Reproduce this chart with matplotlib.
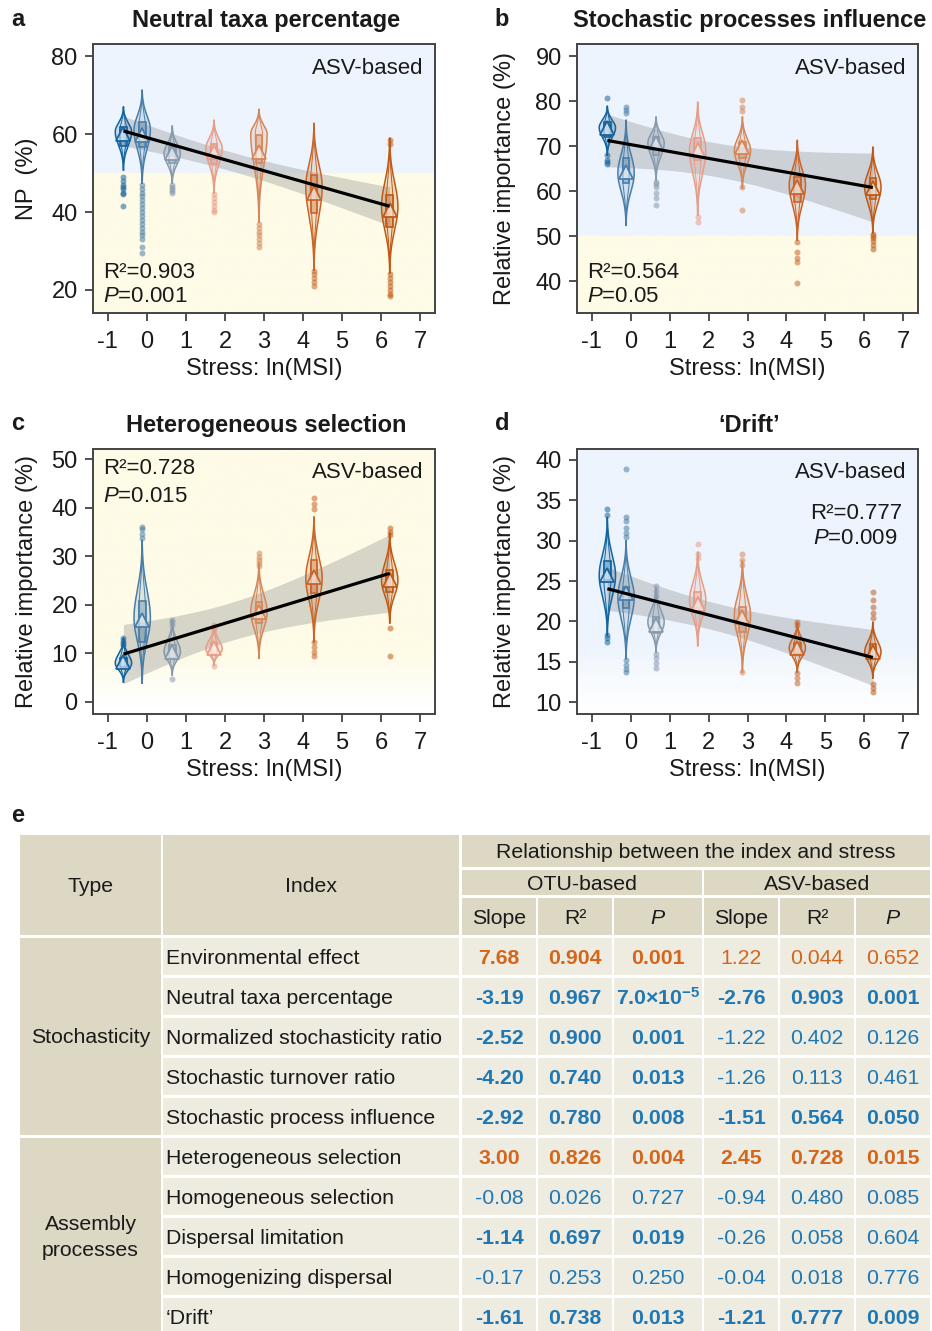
import numpy as np
import matplotlib
matplotlib.use('Agg')
import matplotlib.pyplot as plt
from matplotlib.patches import Rectangle

plt.rcParams['font.family'] = ['Liberation Sans', 'DejaVu Sans']
plt.rcParams['mathtext.fontset'] = 'custom'
plt.rcParams['mathtext.rm'] = 'Liberation Sans'
plt.rcParams['mathtext.it'] = 'Liberation Sans:italic'
plt.rcParams['mathtext.bf'] = 'Liberation Sans:bold'
plt.rcParams['axes.unicode_minus'] = False

# ---------------- data ----------------
stress_x = [-0.6, -0.12, 0.65, 1.72, 2.87, 4.28, 6.22]
group_colors = ['#15649f', '#4a7ea8', '#8699ad', '#e59d89', '#d4875a', '#c8652a', '#bf5a16']
x_ticks = [-1, 0, 1, 2, 3, 4, 5, 6, 7]

# panel a: neutral taxa percentage
a_lo = [50.8, 47.4, 47.4, 44.9, 37.5, 25.1, 24.4]
a_hi = [67.0, 71.3, 62.1, 63.6, 66.4, 62.8, 59.0]
a_peak = [60.6, 61.0, 55.0, 56.3, 60.0, 46.5, 41.4]
a_q1 = [57.0, 56.7, 52.6, 52.3, 52.6, 39.8, 36.2]
a_q3 = [61.8, 63.2, 56.7, 57.4, 59.7, 49.5, 44.4]
a_mean = [59.9, 59.7, 55.1, 55.4, 55.4, 45.0, 40.6]
a_out = [[49, 48, 47, 46.5, 46, 45, 44.5, 41.5],
         [47, 46, 45, 44, 43, 42, 41, 40, 39, 38, 37, 36, 35, 34, 33, 31, 29.5],
         [47, 46.5, 46, 45.5, 45],
         [44.5, 43.5, 42.5, 41.5, 40.5, 40],
         [37, 36, 35, 34, 33, 32, 31],
         [25, 24, 23, 22, 21],
         [58.5, 57.5, 24, 23, 22, 21, 20, 19, 18.5]]

# panel b: stochastic processes influence
b_lo = [68.0, 52.4, 62.4, 54.7, 60.7, 49.1, 50.7]
b_hi = [78.9, 75.8, 76.5, 79.8, 76.5, 71.3, 69.8]
b_peak = [74.1, 64.0, 70.7, 69.0, 69.0, 61.3, 60.9]
b_q1 = [72.1, 61.8, 68.0, 66.9, 67.3, 57.6, 58.2]
b_q3 = [75.4, 67.3, 72.1, 71.8, 71.0, 63.2, 63.0]
b_mean = [74.0, 64.2, 70.7, 69.1, 69.8, 60.9, 60.6]
b_out = [[80.6, 68, 67, 66.5, 66],
         [78.7, 78, 77.3],
         [62, 61.5, 61, 59.5, 58.5, 57],
         [54.3, 53.2],
         [80.2, 78.7, 77.7, 60.8, 55.8],
         [48.7, 46.5, 45.2, 44.2, 39.6],
         [50.5, 50, 49.5, 49, 48, 47.2]]

# panel c: heterogeneous selection
c_lo = [4.1, 3.9, 5.6, 7.6, 9.0, 12.4, 16.3]
c_hi = [13.2, 33.3, 16.9, 16.0, 28.6, 38.1, 34.8]
c_peak = [8.0, 17.3, 10.3, 10.9, 18.5, 25.5, 25.0]
c_q1 = [7.1, 12.4, 9.0, 9.9, 16.3, 22.4, 22.6]
c_q3 = [9.0, 20.8, 11.7, 12.1, 20.6, 29.2, 27.2]
c_mean = [8.2, 16.9, 10.3, 11.1, 18.5, 25.7, 25.1]
c_out = [[13.2, 12.6, 12.2, 11.8],
         [36, 35.5, 34.5, 33.8],
         [16.9, 16.4, 15.8, 4.7],
         [15.9, 15.2, 14.6, 7.4],
         [30.6, 29.8, 29.2, 28.6, 28],
         [42, 40.8, 39.8, 12.3, 11.3, 10.3, 9.5],
         [35.8, 35, 34.3, 15.3, 9.4]]

# panel d: 'Drift'
d_lo = [18.3, 15.4, 16.2, 17.0, 13.7, 13.7, 13.0]
d_hi = [32.9, 30.0, 24.2, 28.6, 27.5, 19.9, 19.9]
d_peak = [25.7, 23.0, 19.9, 22.6, 20.7, 16.7, 16.2]
d_q1 = [25.1, 21.6, 18.6, 21.6, 18.7, 16.0, 15.4]
d_q3 = [27.5, 24.2, 20.5, 23.6, 21.8, 17.3, 17.2]
d_mean = [25.7, 23.5, 19.5, 22.2, 20.5, 16.7, 16.2]
d_out = [[33.9, 33.2, 18.3, 17.9, 17.5],
         [38.9, 32.9, 32.4, 31.6, 31, 30.4, 15.2, 14.6, 14.1, 13.7],
         [24.4, 23.8, 23.2, 16, 15.4, 14.8, 14.2],
         [29.6, 28.4, 27.9],
         [28.4, 27.6, 27, 13.7],
         [19.9, 19.5, 13.6, 13, 12.4],
         [23.6, 22.6, 21.8, 21, 20.4, 12.2, 11.7, 11.3]]

panel_titles = ['Neutral taxa percentage', 'Stochastic processes influence',
                'Heterogeneous selection', '\u2018Drift\u2019']
panel_letters = ['a', 'b', 'c', 'd']
panel_r2 = ['0.903', '0.564', '0.728', '0.777']
panel_p = ['0.001', '0.05', '0.015', '0.009']
panel_ylabels = ['NP  (%)', 'Relative importance (%)', 'Relative importance (%)',
                 'Relative importance (%)']
panel_yticks = [[20, 40, 60, 80], [40, 50, 60, 70, 80, 90],
                [0, 10, 20, 30, 40, 50], [10, 15, 20, 25, 30, 35, 40]]
panel_ylims = [(14.1, 83.1), (32.9, 92.7), (-2.47, 52.06), (8.52, 41.36)]

# table e
tbl_types = ['Stochasticity', 'Assembly\nprocesses']
tbl_type_span = [5, 5]
tbl_index = ['Environmental effect', 'Neutral taxa percentage',
             'Normalized stochasticity ratio', 'Stochastic turnover ratio',
             'Stochastic process influence', 'Heterogeneous selection',
             'Homogeneous selection', 'Dispersal limitation',
             'Homogenizing dispersal', '\u2018Drift\u2019']
otu_slope = [7.68, -3.19, -2.52, -4.20, -2.92, 3.00, -0.08, -1.14, -0.17, -1.61]
otu_r2 = [0.904, 0.967, 0.900, 0.740, 0.780, 0.826, 0.026, 0.697, 0.253, 0.738]
otu_p = [0.001, 7.0e-5, 0.001, 0.013, 0.008, 0.004, 0.727, 0.019, 0.250, 0.013]
asv_slope = [1.22, -2.76, -1.22, -1.26, -1.51, 2.45, -0.94, -0.26, -0.04, -1.21]
asv_r2 = [0.044, 0.903, 0.402, 0.113, 0.564, 0.728, 0.480, 0.058, 0.018, 0.777]
asv_p = [0.652, 0.001, 0.126, 0.461, 0.050, 0.015, 0.085, 0.604, 0.776, 0.009]

# ---------------- figure ----------------
W, H = 932, 1331
fig = plt.figure(figsize=(W / 100, H / 100), dpi=100)
fig.patch.set_facecolor('white')

BLUE_BG = np.array([237, 244, 253]) / 255
YEL_BG = np.array([254, 251, 231]) / 255
TXT = '#1a1a1a'
VW = 0.21   # violin half width (x units)
BW = 0.085  # box half width


def ftext(x, y, s, **kw):
    fig.text(x / W, 1 - y / H, s, **kw)


def add_ax(l, t, r, b):
    return fig.add_axes([l / W, 1 - b / H, (r - l) / W, (b - t) / H])


def violin_shape(lo, hi, peak):
    ys = np.linspace(lo, hi, 300)
    t = np.where(ys < peak, (peak - ys) / (peak - lo), (ys - peak) / (hi - peak))
    s = 0.5
    e1 = np.exp(-(1 / s) ** 2)
    g = (np.exp(-(t / s) ** 2) - e1) / (1 - e1)
    return ys, np.clip(g, 0, 1)


def draw_group(ax, x, lo, hi, peak, q1, q3, mean, outs, color):
    ys, g = violin_shape(lo, hi, peak)
    for scale, lw, fill in [(1.0, 1.1, True), (0.45, 0.7, False)]:
        hw = VW * scale * g
        xs = np.concatenate([x - hw, (x + hw)[::-1]])
        yy = np.concatenate([ys, ys[::-1]])
        if fill:
            ax.fill(xs, yy, facecolor=color, alpha=0.18, lw=0, zorder=3)
        ax.plot(xs, yy, color=color, lw=lw, zorder=4)
    ax.add_patch(Rectangle((x - BW, q1), 2 * BW, q3 - q1, facecolor=color, alpha=0.35,
                           lw=0, zorder=4))
    ax.add_patch(Rectangle((x - BW, q1), 2 * BW, q3 - q1, facecolor='none',
                           edgecolor=color, lw=1.2, zorder=5))
    ax.plot([x] * len(outs), outs, 'o', ms=4.3, color=color, alpha=0.55, mec='none',
            zorder=4)
    ax.plot([x], [mean], marker='^', ms=9.5, mfc=(1, 1, 1, 0.55), mec=color, mew=1.3,
            zorder=6)


def draw_background(ax, ylim, mode):
    xlim = (-1.38, 7.38)
    ys = np.linspace(ylim[0], ylim[1], 400)
    if mode == 'a':
        cols = np.where((ys >= 50)[:, None], BLUE_BG, YEL_BG)
    elif mode == 'c':
        f = np.clip((ys - (-1.0)) / (10.0 - (-1.0)), 0, 1)[:, None]
        cols = np.ones(3) * (1 - f) + YEL_BG * f
    else:
        f = np.clip((ys - 9.0) / (17.5 - 9.0), 0, 1)[:, None]
        cols = np.ones(3) * (1 - f) + BLUE_BG * f
    img = np.repeat(cols[:, None, :], 2, axis=1)
    ax.imshow(img, extent=(xlim[0], xlim[1], ylim[0], ylim[1]), origin='lower',
              aspect='auto', zorder=0, interpolation='bilinear')
    ax.set_xlim(*xlim)
    ax.set_ylim(*ylim)


def draw_fit(ax, means):
    x = np.array(stress_x)
    y = np.array(means)
    n = len(x)
    slope, icpt = np.polyfit(x, y, 1)
    xs = np.linspace(x.min(), x.max(), 100)
    fit = icpt + slope * xs
    resid = y - (icpt + slope * x)
    s = np.sqrt(np.sum(resid ** 2) / (n - 2))
    sxx = np.sum((x - x.mean()) ** 2)
    se = s * np.sqrt(1 / n + (xs - x.mean()) ** 2 / sxx)
    tval = 2.571  # t(0.975, df=5)
    ax.fill_between(xs, fit - tval * se, fit + tval * se, color='#8a8a8a', alpha=0.33,
                    lw=0, zorder=2)
    ax.plot(xs, fit, color='black', lw=2.3, zorder=7, solid_capstyle='butt')


panel_data = [
    (a_lo, a_hi, a_peak, a_q1, a_q3, a_mean, a_out),
    (b_lo, b_hi, b_peak, b_q1, b_q3, b_mean, b_out),
    (c_lo, c_hi, c_peak, c_q1, c_q3, c_mean, c_out),
    (d_lo, d_hi, d_peak, d_q1, d_q3, d_mean, d_out),
]
ax_px = [(93, 44, 435, 313), (577, 44, 918, 313), (93, 449, 435, 714), (577, 449, 918, 714)]
bg_modes = ['a', 'a', 'c', 'd']
title_y = [20, 20, 424, 424]

for k in range(4):
    l, t, r, b = ax_px[k]
    ax = add_ax(l, t, r, b)
    draw_background(ax, panel_ylims[k], bg_modes[k])
    lo, hi, pk, q1, q3, mn, outs = panel_data[k]
    for i in range(7):
        draw_group(ax, stress_x[i], lo[i], hi[i], pk[i], q1[i], q3[i], mn[i], outs[i],
                   group_colors[i])
    draw_fit(ax, mn)
    ax.set_xticks(x_ticks)
    ax.set_xticklabels([str(v) for v in x_ticks])
    ax.set_yticks(panel_yticks[k])
    ax.set_yticklabels([str(v) for v in panel_yticks[k]])
    ax.tick_params(axis='x', direction='out', length=6, width=1.2, pad=7,
                   labelsize=17, colors='#333333', labelcolor=TXT)
    ax.tick_params(axis='y', direction='out', length=6, width=1.2, pad=5,
                   labelsize=17, colors='#333333', labelcolor=TXT)
    for sp in ax.spines.values():
        sp.set_linewidth(1.4)
        sp.set_color('#444444')
    cx = (l + r) / 2
    ftext(cx + 2, title_y[k] + 1, panel_titles[k], fontsize=17, fontweight='bold',
          ha='center', va='center', color=TXT)
    ftext(l - 75, t - 25, panel_letters[k], fontsize=17, fontweight='bold', ha='center',
          va='center', color=TXT)
    ftext(cx, b + 56, 'Stress: ln(MSI)', fontsize=17, ha='center', va='center', color=TXT)
    ftext(l - 66 if k % 2 == 0 else l - 72, (t + b) / 2, panel_ylabels[k], fontsize=17,
          rotation=90, ha='center', va='center', color=TXT)
    ftext(r - 12, t + 24, 'ASV-based', fontsize=16, ha='right', va='center', color=TXT)
    if k in (0, 1):
        ftext(l + 10, b - 41, 'R\u00b2=' + panel_r2[k], fontsize=16, ha='left', va='center',
              color=TXT)
        ftext(l + 10, b - 16, '$P$=' + panel_p[k], fontsize=16, ha='left', va='center',
              color=TXT)
    elif k == 2:
        ftext(l + 10, t + 20, 'R\u00b2=' + panel_r2[k], fontsize=16, ha='left', va='center',
              color=TXT)
        ftext(l + 10, t + 47, '$P$=' + panel_p[k], fontsize=16, ha='left', va='center',
              color=TXT)
    else:
        ftext(r - 16, t + 64, 'R\u00b2=' + panel_r2[k], fontsize=16, ha='right',
              va='center', color=TXT)
        ftext(r - 105, t + 89, '$P$=' + panel_p[k], fontsize=16, ha='left', va='center',
              color=TXT)

# ---------------- table e ----------------
tax = fig.add_axes([0, 0, 1, 1])
tax.set_xlim(0, W)
tax.set_ylim(H, 0)
tax.axis('off')
tax.patch.set_alpha(0)

HDR = '#ddd8c3'
BODY = '#eeebe1'
ORANGE = '#d4661c'
BLUEC = '#1f78b4'
TFS = 15.3

ftext(18, 816, 'e', fontsize=17, fontweight='bold', ha='center', va='center', color=TXT)

cols = [(20, 161), (163, 459), (462, 536), (538, 612), (614, 702), (704, 778),
        (780, 854), (856, 930)]


def cell(x0, x1, y0, y1, color):
    tax.add_patch(Rectangle((x0, y0), x1 - x0, y1 - y0, facecolor=color, lw=0))


def ctext(x, y, s, **kw):
    kw.setdefault('fontsize', TFS)
    kw.setdefault('color', TXT)
    tax.text(x, y, s, ha=kw.pop('ha', 'center'), va='center', **kw)


# header
cell(20, 161, 835, 935, HDR)
ctext(90.5, 887, 'Type')
cell(163, 459, 835, 935, HDR)
ctext(311, 887, 'Index')
cell(462, 930, 835, 867, HDR)
ctext(696, 853, 'Relationship between the index and stress')
cell(462, 702, 870, 895, HDR)
ctext(582, 884, 'OTU-based')
cell(704, 930, 870, 895, HDR)
ctext(817, 884, 'ASV-based')
sub_hdr = ['Slope', 'R\u00b2', '$P$', 'Slope', 'R\u00b2', '$P$']
for j, s in enumerate(sub_hdr):
    x0, x1 = cols[j + 2]
    cell(x0, x1, 898, 935, HDR)
    ctext((x0 + x1) / 2, 918, s)

ROW0, PITCH, RH = 938, 40, 37
# type column
start = 0
for name, span in zip(tbl_types, tbl_type_span):
    y0 = ROW0 + PITCH * start
    y1 = ROW0 + PITCH * (start + span) - 3
    cell(20, 161, y0, y1, HDR)
    ctext(90.5, (y0 + y1) / 2 + 1, name, linespacing=1.45)
    start += span


def fmt_p(p):
    if p < 1e-3:
        m, e = f'{p:.1e}'.split('e')
        return m + '{\\times}10^{' + str(int(e)) + '}'
    return f'{p:.3f}'


for i in range(len(tbl_index)):
    y0 = ROW0 + PITCH * i
    yc = y0 + RH / 2 + 1.5
    cell(163, 459, y0, y0 + RH, BODY)
    ctext(166, yc, tbl_index[i], ha='left')
    for half, (sl, r2, pv) in enumerate([(otu_slope, otu_r2, otu_p),
                                         (asv_slope, asv_r2, asv_p)]):
        color = ORANGE if sl[i] > 0 else BLUEC
        bold = pv[i] <= 0.05
        vals = [f'{sl[i]:.2f}', f'{r2[i]:.3f}', fmt_p(pv[i])]
        for j in range(3):
            x0, x1 = cols[2 + half * 3 + j]
            cell(x0, x1, y0, y0 + RH, BODY)
            s = vals[j]
            if '\\times' in s:
                s = '$\\mathbf{' + s + '}$' if bold else '$' + s + '$'
            ctext((x0 + x1) / 2, yc, s, color=color,
                  fontweight='bold' if bold else 'normal')

fig.savefig('out.png', dpi=100, facecolor='white')
